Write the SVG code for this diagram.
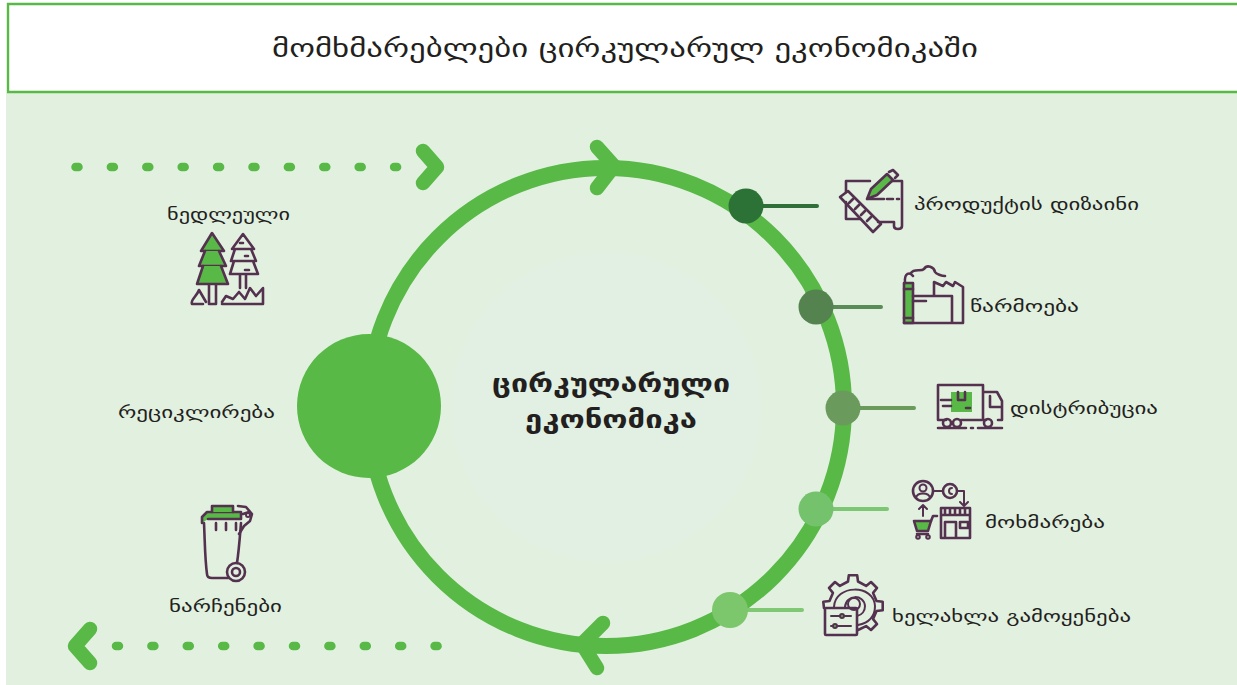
<svg xmlns="http://www.w3.org/2000/svg" width="1237" height="685" viewBox="0 0 1237 685">
<style>
text{font-family:"DejaVu Sans","Noto Sans",sans-serif;fill:#231f20}
.lb{font-size:17px;text-anchor:start}
.ic{fill:none;stroke:#54324f;stroke-width:2.6;stroke-linejoin:round;stroke-linecap:round}
.gr{fill:#58b947}
.thin{stroke-width:2}
.ring{fill:none;stroke:#58b947;stroke-width:16}
.ch{fill:none;stroke:#58b947;stroke-width:14.500;stroke-linecap:round;stroke-linejoin:round}
.dot{fill:none;stroke:#58b947;stroke-width:8.500;stroke-linecap:round;stroke-dasharray:3 32.400}
.ln{stroke-width:4;stroke-linecap:round;fill:none}
</style>
<rect width="1237" height="685" fill="#ffffff"/>
<rect x="6" y="93" width="1231" height="592" fill="#e2f0e0"/>
<circle cx="606" cy="407" r="155" fill="#e1f0e2"/>
<g id="title">
<path d="M1237 4H8V92H1237" fill="#ffffff" stroke="#58b947" stroke-width="2.400"/>
<text x="272" y="57" font-size="25" textLength="706" lengthAdjust="spacingAndGlyphs">მომხმარებლები ცირკულარულ ეკონომიკაში</text>
</g>
<g id="connectors">
<ellipse class="ring" cx="606" cy="407" rx="238" ry="239"/>
<path class="ch" d="M597 147L614 166L597 188"/>
<path class="ch" d="M603 623L582 644L597 668"/>
<path class="dot" d="M75.500 167H400"/>
<path class="dot" d="M116 646H440"/>
<path class="ch" d="M423 151L437 167L423 183"/>
<path class="ch" d="M90 629L75 646L90 663"/>
<path class="ln" stroke="#2f7038" d="M746 206H817"/>
<path class="ln" stroke="#5a8c57" d="M816 307H881"/>
<path class="ln" stroke="#6a9a5c" d="M843 408H914"/>
<path class="ln" stroke="#7cc772" d="M816 509H887"/>
<path class="ln" stroke="#80c873" d="M730 610H802"/>
</g>
<g id="node-recycling">
<circle cx="369" cy="406" r="72" fill="#58b947"/>
<text class="lb" x="118" y="418" textLength="157" lengthAdjust="spacingAndGlyphs">რეციკლირება</text>
</g>
<g id="node-center">
<text x="611" y="392" font-size="25" font-weight="bold" text-anchor="middle" textLength="238" lengthAdjust="spacingAndGlyphs">ცირკულარული</text>
<text x="611" y="428" font-size="25" font-weight="bold" text-anchor="middle" textLength="172" lengthAdjust="spacingAndGlyphs">ეკონომიკა</text>
</g>
<g id="node-design">
<circle cx="746" cy="206" r="17.500" fill="#2c7236"/>
<path class="ic" d="M846 192V181H870M885 181H902V226C902 230 894 230 894 226V222H878M887 199H893M897 199H899M868 199H884M846 202V219H860"/>
<path class="ic" d="M840 197L848 191L881 224L873 232ZM849 203L853 199M855 209L859 205M861 215L865 211M867 221L871 217"/>
<path class="ic gr" d="M867 199L871 189L887 174L893 180L877 195Z"/>
<path class="ic" d="M889 172L893 170L898 175L895 178"/>
<text class="lb" x="914" y="210" textLength="225" lengthAdjust="spacingAndGlyphs">პროდუქტის დიზაინი</text>
</g>
<g id="node-production">
<circle cx="816" cy="307" r="17.500" fill="#55834f"/>
<rect class="ic gr" x="904" y="283" width="9" height="40"/>
<path class="ic" d="M913 296H952V323H913M904 323H963V287L955 282L953 286L946 282L943 286L934 282V296M913 301H926M905 283C904 272 910 272 913 276M911 273C914 268 921 272 924 269C927 264 934 267 935 272C936 274 942 276 945 276M904 289H913M904 318H913"/>
<text class="lb" x="970" y="312" textLength="109" lengthAdjust="spacingAndGlyphs">წარმოება</text>
</g>
<g id="node-distribution">
<circle cx="843" cy="408" r="17.500" fill="#6a9a5c"/>
<rect x="951" y="392" width="21" height="20" class="gr"/>
<path class="ic" d="M946 420H938V385H983V420H961M983 420H986M983 392H997L1002 401V420H998M990 396V407H1002M972 420H976M958 392V400H965V392M966 408H970M951 400H941M951 406H943"/>
<circle class="ic" cx="947" cy="423" r="4"/>
<circle class="ic" cx="957" cy="423" r="4"/>
<circle class="ic" cx="988" cy="423" r="4"/>
<path class="ic" d="M938 428H966M971 428H973M978 428H1002"/>
<text class="lb" x="1010" y="414" textLength="148" lengthAdjust="spacingAndGlyphs">დისტრიბუცია</text>
</g>
<g id="node-consumption">
<circle cx="816" cy="509" r="17.500" fill="#74c26c"/>
<circle class="ic" cx="923" cy="491" r="10"/>
<circle class="ic thin" cx="923" cy="488" r="3.500"/>
<path class="ic thin" d="M916 498C917 492 929 492 930 498M933 491H943"/>
<circle class="ic" cx="950" cy="491" r="7"/>
<path class="ic thin" d="M952 488C948 488 948 494 952 494M957 491H964V505M960 502L964 506L968 502M923 516V505M919 509L923 505L927 509"/>
<path class="ic gr" d="M914 521H931L928 531H917Z"/>
<path class="ic" d="M931 521L933 516H937M917 534H928"/>
<circle class="ic thin" cx="918" cy="537" r="1.800"/>
<circle class="ic thin" cx="928" cy="537" r="1.800"/>
<path class="ic" d="M941 508H970V538H941ZM941 515H970M945 508V515M950 508V515M955 508V515M960 508V515M965 508V515M945 522V538H956V522ZM960 522H968V528H960Z"/>
<text class="lb" x="985" y="528" textLength="120" lengthAdjust="spacingAndGlyphs">მოხმარება</text>
</g>
<g id="node-reuse">
<circle cx="730" cy="610" r="18" fill="#7cc66c"/>
<path class="ic" d="M824 608L823.300 601.800L829.500 601L832.900 592.900L829 588L835 582L839.900 585.900L848 581.500L848.800 575.300L857.200 575.300L858 581.500L866.100 585.900L871 582L877 588L873.100 592.900L876.500 601L882.700 601.800L882.700 610.200L876.500 611L873.100 619.100L877 624L871 630L866.100 626.100L858 630"/>
<path class="ic thin" d="M834 607C835 584 874 584 875 606C875 617 868 623 858 625M845 607C846 594 864 594 865 606C865 611 862 615 857 616"/>
<circle class="ic thin" cx="854" cy="604" r="6"/>
<rect class="ic" x="825" y="608" width="32" height="27" rx="1"/>
<path class="ic thin" d="M831 616H851M831 626H851"/>
<circle class="ic thin gr" cx="842" cy="616" r="2"/>
<circle class="ic thin gr" cx="835" cy="626" r="2"/>
<text class="lb" x="892" y="622" textLength="239" lengthAdjust="spacingAndGlyphs">ხელახლა გამოყენება</text>
</g>
<g id="node-raw">
<text class="lb" x="167" y="220" textLength="123" lengthAdjust="spacingAndGlyphs">ნედლეული</text>
<path class="ic gr" d="M212 233L224 251H201Z"/>
<path class="ic gr" d="M205 251L199 266H226L219 251"/>
<path class="ic gr" d="M203 266L197 284H228L221 266"/>
<path class="ic" d="M209 285V304H216V285M243 234L254 249H232ZM235 249L231 261H256L251 249M234 261L230 274H258L253 261M240 275V288M246 275V288M192 304H203M192 304C190 300 197 296 199 290L206 302M222 304H263V288L256 296L250 288L245 299L239 292L233 299L226 296L222 302M240 243H243M245 256H248M245 270H249"/>
</g>
<g id="node-waste">
<path class="ic" d="M204 523C205 545 205 560 207 574C207 577 209 578 212 578H228M241 523C240 535 239 550 237 563M243 514L249 512M216 523V530M226 523V530M236 523V530"/>
<path class="ic gr" d="M202 523V517L207 512H241V519H208"/>
<path class="ic gr" d="M212 512V506H233V512"/>
<path class="ic" d="M238 506L246 507L252 514L250 521L244 526L239 534"/>
<circle class="ic thin" cx="248" cy="515" r="2"/>
<circle class="ic" cx="236" cy="572" r="9"/>
<circle class="ic" cx="236" cy="572" r="4"/>
<text class="lb" x="169" y="612" textLength="113" lengthAdjust="spacingAndGlyphs">ნარჩენები</text>
</g>
</svg>
